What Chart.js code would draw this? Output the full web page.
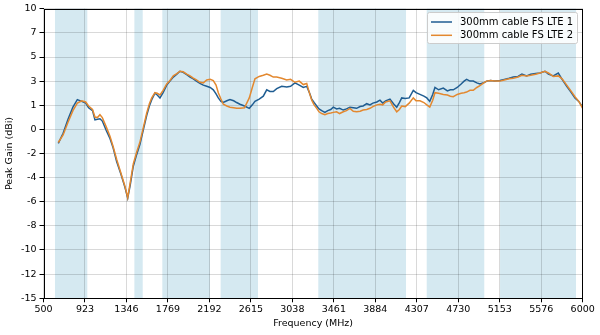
<!DOCTYPE html>
<html lang="en">
<head>
  <meta charset="UTF-8" />
  <title>Peak Gain</title>
  <script src="https://cdn.jsdelivr.net/npm/chart.js"></script>
  <style>
    body { margin: 0; background: #fff; }
  </style>
</head>
<body>
  <canvas id="gainChart" width="600" height="335"></canvas>

  <script>
    // frequency points (MHz) shared by both curves
    const freq = [651, 700, 750, 800, 845, 890, 930, 960, 1000, 1025, 1050, 1076, 1100, 1140, 1178, 1210, 1246, 1290, 1330, 1359,
      1385, 1416, 1450, 1484, 1520, 1553, 1580, 1604, 1637, 1660, 1688, 1720, 1757, 1790, 1824, 1860, 1892, 1925, 1961, 1995,
      2028, 2060, 2096, 2130, 2165, 2200, 2232, 2260, 2283, 2310, 2334, 2370, 2402, 2440, 2470, 2504, 2550, 2599, 2630, 2657,
      2700, 2742, 2777, 2810, 2844, 2879, 2930, 2981, 3020, 3065, 3109, 3150, 3185, 3210, 3236, 3260, 3287, 3310, 3338, 3370,
      3400, 3430, 3456, 3490, 3520, 3558, 3590, 3626, 3660, 3694, 3730, 3760, 3797, 3830, 3860, 3900, 3932, 3960, 3990, 4034,
      4070, 4103, 4130, 4154, 4190, 4230, 4272, 4300, 4340, 4380, 4410, 4440, 4470, 4493, 4530, 4578, 4620, 4650, 4680, 4720,
      4760, 4790, 4816, 4850, 4884, 4920, 4952, 4990, 5020, 5060, 5100, 5156, 5200, 5250, 5292, 5340, 5380, 5428, 5470, 5520,
      5564, 5615, 5650, 5700, 5751, 5790, 5837, 5880, 5921, 5960, 6000];

    const lte1 = [-1.63, -0.75, 0.45, 1.5, 2.15, 2.0, 1.85, 1.45, 1.2, 0.4, 0.45, 0.5, 0.3, -0.5, -1.2, -2.0, -3.2, -4.3, -5.4, -6.35,
      -5.2, -3.6, -2.6, -1.7, -0.4, 0.8, 1.6, 2.15, 2.7, 2.55, 2.3, 2.75, 3.4, 3.75, 4.1, 4.35, 4.6, 4.5, 4.3, 4.1,
      3.95, 3.75, 3.55, 3.4, 3.3, 3.2, 3.0, 2.65, 2.3, 2.0, 1.9, 2.05, 2.15, 2.05, 1.9, 1.75, 1.6, 1.4, 1.7, 2.0,
      2.2, 2.45, 3.0, 2.85, 2.85, 3.1, 3.3, 3.25, 3.3, 3.6, 3.4, 3.2, 3.3, 2.8, 2.2, 1.9, 1.6, 1.35, 1.2, 1.05,
      1.2, 1.3, 1.5, 1.35, 1.4, 1.25, 1.35, 1.5, 1.45, 1.4, 1.55, 1.6, 1.8, 1.7, 1.85, 1.95, 2.1, 1.85, 2.05, 2.2,
      1.8, 1.5, 1.9, 2.3, 2.25, 2.3, 2.95, 2.75, 2.6, 2.45, 2.3, 2.0, 2.6, 3.2, 3.0, 3.15, 2.9, 3.0, 3.0, 3.2,
      3.5, 3.75, 3.9, 3.75, 3.75, 3.6, 3.5, 3.6, 3.75, 3.8, 3.75, 3.8, 3.9, 4.0, 4.1, 4.15, 4.35, 4.2, 4.35, 4.4,
      4.45, 4.6, 4.35, 4.2, 4.45, 3.9, 3.3, 2.8, 2.3, 2.0, 1.5];

    const lte2 = [-1.55, -0.9, 0.2, 1.2, 1.85, 2.05, 1.95, 1.6, 1.3, 0.65, 0.6, 0.85, 0.6, -0.2, -1.0, -1.9, -3.0, -4.2, -5.3, -6.3,
      -5.0, -3.4, -2.4, -1.5, -0.2, 1.0, 1.8, 2.3, 2.75, 2.7, 2.55, 2.95, 3.5, 3.8, 4.2, 4.4, 4.6, 4.55, 4.35, 4.2,
      4.0, 3.85, 3.65, 3.6, 3.85, 3.9, 3.8, 3.4, 2.75, 2.2, 1.75, 1.6, 1.5, 1.45, 1.4, 1.4, 1.45, 2.3, 3.2, 3.95,
      4.15, 4.25, 4.35, 4.25, 4.1, 4.1, 4.0, 3.85, 3.9, 3.65, 3.75, 3.45, 3.55, 2.8, 2.1, 1.7, 1.4, 1.1, 0.95, 0.85,
      0.95, 1.0, 1.05, 1.1, 0.95, 1.1, 1.2, 1.4, 1.15, 1.1, 1.15, 1.25, 1.3, 1.4, 1.55, 1.7, 1.75, 1.7, 1.95, 2.05,
      1.5, 1.1, 1.3, 1.6, 1.55, 1.85, 2.3, 2.05, 2.05, 1.9, 1.7, 1.5, 2.1, 2.75, 2.7, 2.6, 2.55, 2.45, 2.4, 2.6,
      2.7, 2.75, 2.8, 2.95, 2.95, 3.2, 3.35, 3.6, 3.75, 3.8, 3.75, 3.75, 3.85, 3.95, 4.0, 4.1, 4.25, 4.2, 4.25, 4.35,
      4.45, 4.6, 4.45, 4.15, 4.2, 3.95, 3.4, 2.9, 2.4, 2.0, 1.4];

    // shaded LTE bands (MHz)
    const bands = [[617, 947], [1427, 1512], [1712, 2198], [2307, 2688], [3303, 4198], [4409, 4996], [5157, 5932]];

    // ticks: evenly spaced, labels truncated
    const xTicks = [500, 923.08, 1346.15, 1769.23, 2192.31, 2615.38, 3038.46, 3461.54, 3884.62, 4307.69, 4730.77, 5153.85, 5576.92, 6000];
    const xTickLabels = ['500', '923', '1346', '1769', '2192', '2615', '3038', '3461', '3884', '4307', '4730', '5153', '5576', '6000'];
    const yTicks = [-15, -12.92, -10.83, -8.75, -6.67, -4.58, -2.5, -0.42, 1.67, 3.75, 5.83, 7.92, 10];
    const yTickLabels = ['-15', '-12', '-10', '-8', '-6', '-4', '-2', '0', '1', '3', '5', '7', '10'];

    const seriesNames = ['300mm cable FS LTE 1', '300mm cable FS LTE 2'];
    const seriesColors = ['#1f5d92', '#e3882f'];

    const font = { family: 'DejaVu Sans', size: 9.5 };

    // light blue spans, drawn under the grid
    const bandPlugin = {
      id: 'bands',
      beforeDraw(chart) {
        const { ctx, chartArea, scales } = chart;
        ctx.save();
        ctx.fillStyle = '#d5e9f1';
        bands.forEach(([a, b]) => {
          const x1 = scales.x.getPixelForValue(a);
          const x2 = scales.x.getPixelForValue(b);
          ctx.fillRect(x1, chartArea.top, x2 - x1, chartArea.bottom - chartArea.top);
        });
        ctx.restore();
      }
    };

    // box frame + legend
    const framePlugin = {
      id: 'frame',
      afterDraw(chart) {
        const { ctx, chartArea } = chart;
        ctx.save();
        ctx.strokeStyle = '#000';
        ctx.lineWidth = 1;
        ctx.strokeRect(Math.round(chartArea.left) + 0.5, Math.round(chartArea.top) + 0.5,
          Math.round(chartArea.right - chartArea.left) - 1, Math.round(chartArea.bottom - chartArea.top) - 1);

        // legend box
        const bx = 427.5, by = 12.5, bw = 150, bh = 31;
        ctx.beginPath();
        ctx.roundRect(bx, by, bw, bh, 2);
        ctx.fillStyle = 'rgba(255,255,255,0.85)';
        ctx.fill();
        ctx.strokeStyle = '#cccccc';
        ctx.stroke();

        ctx.font = '10px "DejaVu Sans"';
        ctx.textBaseline = 'middle';
        seriesNames.forEach((name, i) => {
          const y = 22 + i * 13.3;
          ctx.strokeStyle = seriesColors[i];
          ctx.lineWidth = 1.5;
          ctx.beginPath();
          ctx.moveTo(431, y);
          ctx.lineTo(452, y);
          ctx.stroke();
          ctx.fillStyle = '#000';
          ctx.fillText(name, 460, y + 0.5);
        });
        ctx.restore();
      }
    };

    const ctx = document.getElementById('gainChart').getContext('2d');
    const chart = new Chart(ctx, {
      type: 'line',
      data: {
        datasets: [
          {
            label: seriesNames[0],
            data: freq.map((f, i) => ({ x: f, y: lte1[i] })),
            borderColor: seriesColors[0],
            borderWidth: 1.5,
            pointRadius: 0,
            order: 1
          },
          {
            label: seriesNames[1],
            data: freq.map((f, i) => ({ x: f, y: lte2[i] })),
            borderColor: seriesColors[1],
            borderWidth: 1.5,
            pointRadius: 0,
            order: 0
          }
        ]
      },
      options: {
        responsive: false,
        animation: false,
        devicePixelRatio: 1,
        layout: { padding: { top: 7.3, right: 17.3, bottom: 2, left: 0 } },
        plugins: {
          legend: { display: false },
          tooltip: { enabled: false }
        },
        scales: {
          x: {
            type: 'linear',
            min: 500,
            max: 6000,
            afterFit: (s) => { s.height = 34.7; },
            afterBuildTicks: (s) => { s.ticks = xTicks.map(v => ({ value: v })); },
            ticks: {
              autoSkip: false,
              maxRotation: 0,
              padding: 2,
              color: '#000',
              font: font,
              callback: (v, i) => xTickLabels[i]
            },
            grid: { color: 'rgba(0,0,0,0.15)', tickColor: '#000', tickLength: 4 },
            border: { display: false },
            title: { display: true, text: 'Frequency (MHz)', color: '#000', font: font, padding: { top: 2, bottom: 4 } }
          },
          y: {
            min: -15,
            max: 10,
            afterFit: (s) => { s.width = 43.5; },
            afterBuildTicks: (s) => { s.ticks = yTicks.map(v => ({ value: v })); },
            ticks: {
              autoSkip: false,
              padding: 3,
              color: '#000',
              font: font,
              callback: (v, i) => yTickLabels[i]
            },
            grid: { color: 'rgba(0,0,0,0.15)', tickColor: '#000', tickLength: 4 },
            border: { display: false },
            title: { display: true, text: 'Peak Gain (dBi)', color: '#000', font: font, padding: { top: 4, bottom: 4 } }
          }
        }
      },
      plugins: [bandPlugin, framePlugin]
    });
  </script>
</body>
</html>
